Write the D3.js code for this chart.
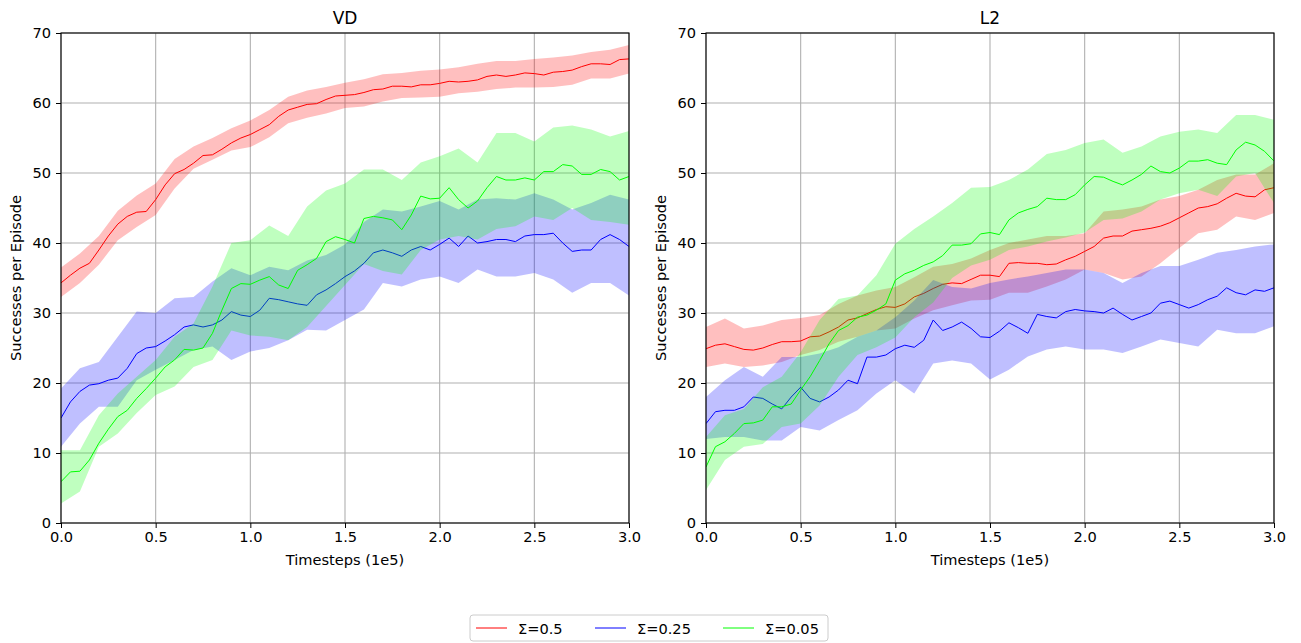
<!DOCTYPE html>
<html>
<head>
<meta charset="utf-8">
<script src="https://cdn.jsdelivr.net/npm/d3@7"></script>
<style>
  body { margin: 0; background: #fff; }
  svg { display: block; font-family: "DejaVu Sans", sans-serif; }
</style>
</head>
<body>
<svg id="chart"></svg>
<script>
// sample positions (in 1e5 timesteps)
const xMean = [0,0.05,0.1,0.15,0.2,0.25,0.3,0.35,0.4,0.45,0.5,0.55,0.6,0.65,0.7,0.75,0.8,0.85,0.9,0.95,
  1.0,1.05,1.1,1.15,1.2,1.25,1.3,1.35,1.4,1.45,1.5,1.55,1.6,1.65,1.7,1.75,1.8,1.85,1.9,1.95,
  2.0,2.05,2.1,2.15,2.2,2.25,2.3,2.35,2.4,2.45,2.5,2.55,2.6,2.65,2.7,2.75,2.8,2.85,2.9,2.95,3.0];
const xBand = [0,0.1,0.2,0.3,0.4,0.5,0.6,0.7,0.8,0.9,1.0,1.1,1.2,1.3,1.4,1.5,
  1.6,1.7,1.8,1.9,2.0,2.1,2.2,2.3,2.4,2.5,2.6,2.7,2.8,2.9,3.0];

// ---- VD ----
const vdRedMean = [34.3,35.4,36.4,37.1,39.0,41.0,42.7,43.8,44.4,44.5,46.2,48.3,49.9,50.5,51.4,52.5,52.6,53.4,54.3,55.0,
  55.5,56.2,56.9,58.1,59.0,59.4,59.8,59.9,60.5,61.0,61.1,61.2,61.5,61.9,62.0,62.4,62.4,62.3,62.6,62.6,
  62.8,63.1,63.0,63.1,63.3,63.8,64.0,63.8,64.0,64.3,64.2,64.0,64.4,64.5,64.7,65.2,65.6,65.6,65.5,66.2,66.3];
const vdRedUpper = [36.5,38.5,41.0,44.6,46.8,48.5,52.0,53.8,55.0,56.4,57.5,59.0,60.9,61.8,62.3,62.9,
  63.4,64.1,64.3,64.6,64.8,65.1,65.6,66.0,66.0,66.3,66.5,66.8,67.3,67.6,68.3];
const vdRedLower = [32.3,34.3,36.9,40.4,42.3,44.0,47.8,50.6,51.9,53.2,53.7,55.1,57.1,57.9,58.5,59.3,
  59.5,60.2,60.7,60.8,60.9,61.4,61.6,62.0,62.2,62.2,62.3,62.6,63.5,63.5,64.2];

const vdBlueMean = [15.0,17.3,18.8,19.7,19.9,20.4,20.7,22.1,24.2,25.0,25.2,26.0,26.9,28.0,28.3,28.0,28.3,29.0,30.2,29.7,
  29.5,30.4,32.1,31.9,31.6,31.3,31.1,32.6,33.3,34.2,35.2,36.0,37.1,38.6,39.0,38.6,38.1,39.0,39.5,39.0,
  39.8,40.7,39.5,41.0,40.0,40.2,40.5,40.5,40.2,41.0,41.2,41.2,41.4,40.0,38.8,39.0,39.0,40.5,41.2,40.5,39.5];
const vdBlueUpper = [19.2,22.1,23.0,26.6,30.2,30.0,32.1,32.3,34.5,36.4,35.4,36.6,36.1,37.5,38.3,39.8,
  43.0,44.8,44.5,45.2,46.0,44.8,46.2,46.4,46.2,47.1,46.2,44.8,45.7,46.9,46.2];
const vdBlueLower = [10.9,14.2,16.6,16.6,20.4,21.9,23.3,24.7,25.2,23.3,24.5,25.0,26.1,27.6,27.5,29.0,
  30.5,34.3,33.8,34.8,35.2,34.3,36.2,35.2,35.2,35.7,34.8,32.9,34.3,34.3,32.5];

const vdGreenMean = [5.9,7.3,7.4,9.0,11.4,13.4,15.2,16.1,17.8,19.2,20.7,22.3,23.3,24.8,24.7,25.0,27.1,30.4,33.5,34.2,
  34.1,34.7,35.2,34.0,33.5,36.1,36.9,37.8,40.2,40.9,40.5,40.0,43.5,43.8,43.6,43.3,41.9,44.0,46.7,46.3,
  46.4,47.9,46.2,45.0,46.0,47.9,49.5,49.0,49.0,49.3,49.0,50.2,50.2,51.2,51.0,49.8,49.8,50.5,50.2,49.0,49.5];
const vdGreenUpper = [10.4,10.4,15.4,18.5,20.9,23.3,26.6,28.5,33.8,40.0,40.4,42.5,41.0,45.2,47.5,48.5,
  50.5,50.5,49.0,51.5,52.4,53.5,51.5,55.7,55.7,54.5,56.5,56.8,56.2,55.2,56.0];
const vdGreenLower = [2.8,4.5,10.9,12.8,15.7,18.3,19.5,22.3,23.3,27.5,26.8,26.6,26.1,28.0,31.0,34.0,
  37.0,36.0,35.5,39.0,40.5,41.0,40.5,42.0,42.4,43.8,43.3,45.0,43.3,43.0,42.6];

// ---- L2 ----
const l2RedMean = [24.9,25.4,25.6,25.2,24.8,24.7,25.0,25.5,25.9,25.9,26.0,26.6,26.7,27.3,28.0,29.0,29.3,29.9,30.5,30.9,
  30.8,31.3,32.3,32.8,33.5,34.1,34.3,34.2,34.8,35.4,35.4,35.2,37.1,37.2,37.1,37.1,36.9,37.0,37.6,38.1,
  38.8,39.5,40.7,41.0,41.0,41.7,41.9,42.1,42.4,42.9,43.6,44.3,45.0,45.2,45.6,46.4,47.1,46.7,46.6,47.6,47.9];
const l2RedUpper = [28.0,29.2,27.8,28.2,29.0,29.3,29.7,31.3,32.5,33.2,33.7,35.1,36.6,37.0,37.8,39.0,
  40.0,40.5,41.0,41.0,41.4,44.5,44.8,45.2,46.2,46.7,47.6,49.0,49.8,49.8,51.4];
const l2RedLower = [22.3,22.8,22.3,22.5,23.0,24.0,24.7,25.9,26.6,27.5,27.8,29.2,30.4,31.1,31.8,31.9,
  32.9,32.9,33.8,34.8,36.2,35.7,34.8,35.2,37.1,39.3,41.4,41.9,43.8,43.3,44.3];

const l2BlueMean = [14.2,15.9,16.1,16.1,16.6,18.0,17.8,17.0,16.3,18.0,19.4,17.8,17.3,18.0,19.0,20.4,19.9,23.7,23.7,24.0,
  24.9,25.4,25.1,26.1,29.0,27.5,28.0,28.7,27.8,26.6,26.5,27.4,28.6,27.9,27.1,29.8,29.5,29.3,30.2,30.5,
  30.3,30.2,30.0,30.7,29.8,29.0,29.5,30.0,31.4,31.7,31.2,30.7,31.2,31.9,32.4,33.6,32.9,32.6,33.3,33.1,33.6];
const l2BlueUpper = [18.0,20.4,22.3,20.9,23.7,23.7,24.2,25.1,26.6,27.5,29.4,31.8,34.7,33.7,33.5,34.3,
  34.8,35.2,35.7,36.2,36.2,35.7,34.3,35.7,36.7,36.7,37.6,38.6,39.0,39.5,39.8];
const l2BlueLower = [12.0,12.3,12.3,11.8,11.8,13.7,13.2,14.7,16.1,18.5,20.4,18.5,22.8,23.2,22.8,20.5,
  21.9,23.8,24.8,25.2,24.8,24.8,24.3,25.2,26.2,25.7,25.2,27.6,27.1,27.1,28.1];

const l2GreenMean = [8.0,10.9,11.6,12.8,14.2,14.3,14.7,16.6,16.6,17.0,19.0,20.9,23.2,25.6,27.5,28.2,29.4,29.7,30.4,31.3,
  34.7,35.6,36.1,36.8,37.3,38.2,39.7,39.7,39.9,41.3,41.5,41.2,43.3,44.3,44.8,45.2,46.4,46.2,46.2,46.9,
  48.3,49.5,49.4,48.8,48.3,49.0,49.8,51.0,50.2,50.0,50.7,51.7,51.7,51.9,51.4,51.2,53.3,54.4,54.0,53.1,51.7];
const l2GreenUpper = [12.3,15.4,16.3,19.4,20.9,24.4,29.0,32.0,32.5,35.4,39.9,42.0,43.8,45.7,47.9,48.0,
  49.0,50.5,52.7,53.3,54.3,54.8,52.9,53.8,55.2,55.9,56.2,55.7,58.3,58.3,57.6];
const l2GreenLower = [4.7,9.0,10.9,11.3,13.7,14.2,16.8,20.9,24.0,25.1,26.5,29.4,31.5,35.0,36.8,37.6,
  39.0,39.5,40.2,40.8,41.5,43.3,43.5,44.5,46.2,47.1,47.6,46.7,49.5,50.0,45.7];

const xTicks = [0, 0.5, 1.0, 1.5, 2.0, 2.5, 3.0];
const yTicks = [0, 10, 20, 30, 40, 50, 60, 70];
const legendLabels = ["Σ=0.5", "Σ=0.25", "Σ=0.05"];
const colors = ["#ff0000", "#0000ff", "#00ff00"];

const panels = [
  { title: "VD", left: 61, series: [
      [vdRedMean, vdRedLower, vdRedUpper],
      [vdBlueMean, vdBlueLower, vdBlueUpper],
      [vdGreenMean, vdGreenLower, vdGreenUpper]] },
  { title: "L2", left: 706, series: [
      [l2RedMean, l2RedLower, l2RedUpper],
      [l2BlueMean, l2BlueLower, l2BlueUpper],
      [l2GreenMean, l2GreenLower, l2GreenUpper]] }
];

const width = 1301, height = 643;
const plotW = 568, plotTop = 33, plotH = 490;
const fontSize = 14.6;

const svg = d3.select("#chart")
  .attr("width", width)
  .attr("height", height)
  .attr("viewBox", [0, 0, width, height]);

panels.forEach(p => {
  const x = d3.scaleLinear().domain([0, 3]).range([0, plotW]);
  const y = d3.scaleLinear().domain([0, 70]).range([plotH, 0]);

  const g = svg.append("g").attr("transform", `translate(${p.left},${plotTop})`);

  // grid
  g.append("g").selectAll("line").data(xTicks).join("line")
    .attr("x1", d => x(d)).attr("x2", d => x(d))
    .attr("y1", 0).attr("y2", plotH)
    .attr("stroke", "#b0b0b0").attr("stroke-width", 1.1);
  g.append("g").selectAll("line").data(yTicks).join("line")
    .attr("x1", 0).attr("x2", plotW)
    .attr("y1", d => y(d)).attr("y2", d => y(d))
    .attr("stroke", "#b0b0b0").attr("stroke-width", 1.1);

  const clip = "clip-" + p.title;
  g.append("clipPath").attr("id", clip)
    .append("rect").attr("width", plotW).attr("height", plotH);

  const plot = g.append("g").attr("clip-path", `url(#${clip})`);

  p.series.forEach((s, i) => {
    const [mean, lo, hi] = s;
    const line = d3.line().x((d, j) => x(xMean[j])).y(d => y(d));
    const area = d3.area()
      .x((d, j) => x(xBand[j]))
      .y0((d, j) => y(lo[j]))
      .y1(d => y(d));

    plot.append("path")
      .datum(mean)
      .attr("d", line)
      .attr("fill", "none")
      .attr("stroke", colors[i])
      .attr("stroke-width", 1);

    plot.append("path")
      .datum(hi)
      .attr("d", area)
      .attr("fill", colors[i])
      .attr("fill-opacity", 0.25);
  });

  // axes
  const xAxis = d3.axisBottom(x).tickValues(xTicks).tickFormat(d3.format(".1f")).tickSize(5).tickPadding(4);
  const yAxis = d3.axisLeft(y).tickValues(yTicks).tickSize(5).tickPadding(5);

  g.append("g").attr("transform", `translate(0,${plotH})`).call(xAxis)
    .call(a => a.select(".domain").remove());
  g.append("g").call(yAxis)
    .call(a => a.select(".domain").remove());

  g.selectAll(".tick text")
    .attr("font-size", fontSize)
    .attr("font-family", "DejaVu Sans, sans-serif")
    .attr("fill", "#000");
  g.selectAll(".tick line").attr("stroke", "#000").attr("stroke-width", 1);

  g.append("rect")
    .attr("width", plotW).attr("height", plotH)
    .attr("fill", "none").attr("stroke", "#000").attr("stroke-width", 1.1);

  g.append("text")
    .attr("x", plotW / 2).attr("y", -9)
    .attr("text-anchor", "middle")
    .attr("font-size", 17)
    .text(p.title);

  g.append("text")
    .attr("x", plotW / 2).attr("y", plotH + 42)
    .attr("text-anchor", "middle")
    .attr("font-size", fontSize)
    .text("Timesteps (1e5)");

  g.append("text")
    .attr("transform", `translate(-40,${plotH / 2}) rotate(-90)`)
    .attr("text-anchor", "middle")
    .attr("font-size", fontSize)
    .text("Successes per Episode");
});

// legend
const legend = svg.append("g").attr("transform", "translate(470,615)");
legend.append("rect")
  .attr("width", 358).attr("height", 26).attr("rx", 3)
  .attr("fill", "#fff").attr("stroke", "#cccccc").attr("stroke-width", 1);

const legendX = [6, 125, 253];
legendLabels.forEach((label, i) => {
  legend.append("line")
    .attr("x1", legendX[i]).attr("x2", legendX[i] + 31)
    .attr("y1", 13).attr("y2", 13)
    .attr("stroke", colors[i]).attr("stroke-width", 1);
  legend.append("text")
    .attr("x", legendX[i] + 42).attr("y", 18.5)
    .attr("font-size", fontSize)
    .text(label);
});
</script>
</body>
</html>
